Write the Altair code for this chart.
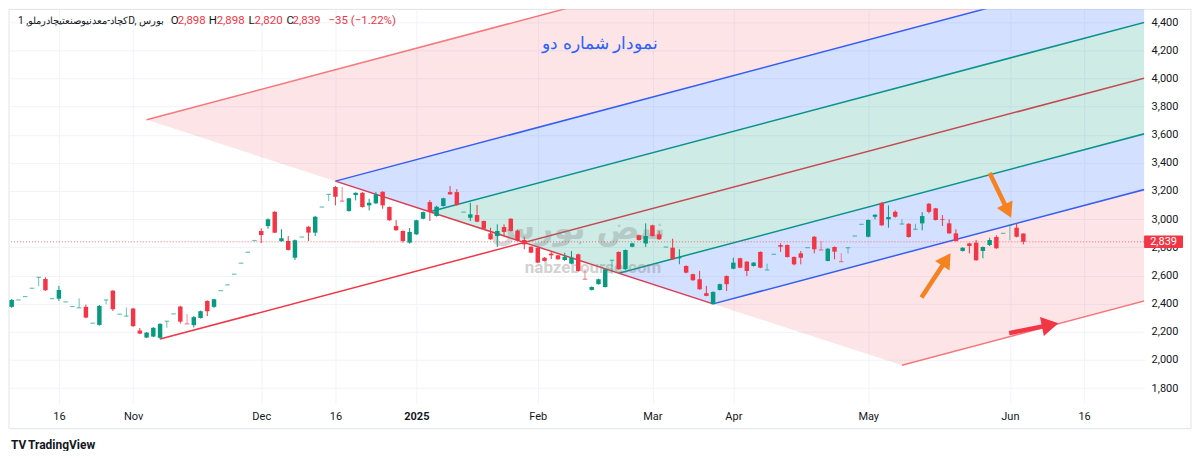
import json
import math
import altair as alt
import numpy as np
import pandas as pd

GREEN = "#089981"
RED = "#f23645"

# ---- daily candles (bar index 0..150) ----
opens = [2377, 2426, 2450, 2509, 2587, 2575, 2435, 2435, 2412, 2379, 2370, 2377, 2261, 2249, 2426, 2492,
         2325, 2311, 2365, 2209, 2159, 2166, 2157, 2275, 2327, 2379, 2257, 2247, 2298, 2419, 2377, 2492,
         2533, 2609, 2687, 2765, 2848, 2916, 2951, 3052, 2843, 2845, 2726, 2873, 2946, 2904, 3086, 3176,
         3228, 3129, 3057, 3171, 3187, 3098, 3112, 3194, 3086, 2951, 2916, 2833, 2892, 3003, 3121, 3022,
         3093, 3192, 3192, 3050, 3010, 3029, 2987, 2899, 2880, 2944, 3003, 2919, 2852, 2804, 2797, 2726,
         2755, 2743, 2710, 2684, 2750, 2574, 2497, 2538, 2518, 2708, 2767, 2644, 2804, 2885, 2828, 2956,
         2892, 2802, 2797, 2722, 2667, 2609, 2573, 2474, 2396, 2497, 2596, 2648, 2722, 2698, 2667, 2767,
         2639, 2750, 2816, 2816, 2731, 2757, 2797, 2875, 2782, 2703, 2802, 2699, 2797, 2880, 2963, 2875,
         3017, 3116, 2999, 3052, 2965, 2967, 2928, 2970, 3109, 3077, 2999, 2970, 2899, 2774, 2828, 2833,
         2774, 2816, 2873, 2899, 2956, 2939, 2898]
highs = [2433, 2426, 2450, 2509, 2587, 2587, 2435, 2526, 2412, 2379, 2438, 2393, 2261, 2390, 2426, 2495,
         2325, 2372, 2370, 2226, 2198, 2233, 2260, 2275, 2327, 2385, 2325, 2311, 2350, 2423, 2435, 2492,
         2533, 2609, 2687, 2765, 2848, 2935, 3005, 3057, 2928, 2880, 2855, 2873, 2950, 3022, 3086, 3176,
         3235, 3228, 3150, 3190, 3192, 3145, 3192, 3198, 3090, 2993, 2920, 2937, 2996, 3054, 3135, 3095,
         3152, 3235, 3213, 3050, 3116, 3100, 2990, 2939, 2963, 2963, 3007, 2925, 2875, 2808, 2800, 2730,
         2767, 2746, 2762, 2774, 2755, 2644, 2522, 2577, 2648, 2708, 2771, 2785, 2832, 2890, 2970, 2960,
         2916, 2802, 2861, 2786, 2672, 2612, 2632, 2526, 2487, 2542, 2600, 2726, 2726, 2702, 2695, 2771,
         2684, 2750, 2828, 2820, 2735, 2774, 2797, 2880, 2845, 2794, 2806, 2757, 2797, 2880, 2963, 2998,
         3035, 3120, 3098, 3062, 2999, 2971, 2967, 3050, 3115, 3080, 3029, 2999, 2928, 2800, 2832, 2852,
         2806, 2868, 2885, 2899, 2956, 2970, 2898]
lows = [2370, 2426, 2450, 2509, 2523, 2490, 2435, 2419, 2412, 2379, 2370, 2296, 2261, 2243, 2396, 2348,
        2325, 2311, 2235, 2183, 2155, 2162, 2148, 2228, 2327, 2258, 2256, 2230, 2294, 2311, 2370, 2492,
        2533, 2609, 2687, 2765, 2848, 2830, 2932, 2900, 2840, 2777, 2710, 2873, 2845, 2880, 3086, 3128,
        3098, 3128, 3055, 3133, 3082, 3062, 3108, 3074, 2988, 2918, 2833, 2826, 2888, 2999, 2987, 3018,
        3090, 3174, 3096, 3050, 2987, 2978, 2928, 2853, 2802, 2885, 2912, 2843, 2786, 2758, 2688, 2700,
        2717, 2712, 2703, 2680, 2628, 2573, 2493, 2535, 2514, 2613, 2640, 2640, 2800, 2848, 2802, 2876,
        2853, 2802, 2712, 2680, 2615, 2562, 2498, 2452, 2395, 2493, 2490, 2644, 2651, 2596, 2663, 2651,
        2639, 2750, 2767, 2727, 2672, 2679, 2797, 2757, 2781, 2700, 2715, 2698, 2757, 2880, 2963, 2870,
        2999, 2952, 2939, 3010, 2965, 2869, 2928, 2921, 3041, 2990, 2951, 2895, 2840, 2770, 2757, 2704,
        2722, 2809, 2789, 2899, 2850, 2870, 2820]
closes = [2426, 2426, 2450, 2509, 2587, 2495, 2435, 2497, 2412, 2379, 2370, 2301, 2261, 2384, 2426, 2360,
          2325, 2311, 2240, 2187, 2194, 2228, 2256, 2275, 2327, 2272, 2256, 2304, 2346, 2346, 2431, 2492,
          2533, 2609, 2687, 2765, 2848, 2887, 2999, 2904, 2864, 2781, 2850, 2873, 2904, 3017, 3086, 3176,
          3159, 3128, 3148, 3187, 3086, 3116, 3176, 3098, 2992, 2921, 2845, 2909, 2992, 3050, 3050, 3088,
          3148, 3176, 3100, 3050, 3034, 2982, 2932, 2857, 2916, 2909, 2916, 2848, 2821, 2762, 2691, 2703,
          2743, 2715, 2733, 2726, 2632, 2573, 2518, 2573, 2644, 2708, 2644, 2781, 2828, 2852, 2880, 2880,
          2857, 2802, 2715, 2730, 2620, 2566, 2502, 2455, 2483, 2538, 2538, 2691, 2655, 2632, 2691, 2655,
          2639, 2750, 2804, 2731, 2679, 2726, 2797, 2786, 2781, 2790, 2769, 2698, 2797, 2880, 2963, 2994,
          3031, 2956, 3015, 3017, 2965, 2873, 2928, 3022, 3052, 2994, 2994, 2899, 2845, 2797, 2809, 2708,
          2802, 2852, 2793, 2899, 2956, 2875, 2839]

# ---- time axis (bar index of each label) ----
tick_bars = [7, 18, 37, 48, 60, 78, 95, 107, 127, 148, 159]
tick_labels = ["16", "Nov", "Dec", "16", "2025", "Feb", "Mar", "Apr", "May", "Jun", "16"]
y_ticks = list(range(1800, 4401, 200))

# ---- pitchfork anchors (bar index, price) ----
P1 = (22.0, 2148.0)
P2 = (48.0, 3270.0)
P3 = (104.0, 2398.0)

# ---- annotation arrows (bar, price) ----
arrow_tail_bar = [145.0, 134.9, 147.9]
arrow_tail_price = [3327, 2443, 2190]
arrow_tip_bar = [148.2, 139.2, 155.2]
arrow_tip_price = [3010, 2758, 2261]
arrow_color = ["#f5821f", "#f5821f", "#f23645"]
arrow_head = [300, 300, 380]

W, H = 1137, 395
XD = [-0.4, 167.9]
YD = [1689, 4490]
ppx = W / (XD[1] - XD[0])
ppy = H / (YD[1] - YD[0])

xs = alt.Scale(domain=XD, nice=False, zero=False)
ys = alt.Scale(domain=YD, nice=False, zero=False)
label_expr = f"{json.dumps(tick_labels)}[indexof({json.dumps(tick_bars)}, datum.value)]"
xaxis = alt.Axis(values=tick_bars, labelExpr=label_expr, grid=True, gridColor="#f0f3fa",
                 ticks=False, tickSize=0, domain=False, labelPadding=7, title=None,
                 labelFontWeight={"condition": {"test": "datum.value == 60", "value": "bold"},
                                  "value": "normal"})
yaxis = alt.Axis(orient="right", values=y_ticks, format=",d", grid=True, gridColor="#f0f3fa",
                 ticks=False, tickSize=0, domain=False, labelPadding=7, title=None)


def X(f):
    return alt.X(f, type="quantitative", scale=xs, axis=xaxis)


def Y(f):
    return alt.Y(f, type="quantitative", scale=ys, axis=yaxis)


# ---- pitchfork geometry ----
X_END = 176.0
mx, my = (P2[0] + P3[0]) / 2, (P2[1] + P3[1]) / 2
slope = (my - P1[1]) / (mx - P1[0])


def start(k):
    return (mx + k * (P2[0] - mx), my + k * (P2[1] - my))


def at(k, x):
    sx, sy = start(k)
    return sy + slope * (x - sx)


bands = [(2, 1, RED, 0.13), (1, 0.5, "#2962ff", 0.2), (0.5, -0.5, GREEN, 0.2),
         (-0.5, -1, "#2962ff", 0.2), (-1, -2, RED, 0.13)]
rows = []
for b, (ku, kl, col, op) in enumerate(bands):
    su, sl = start(ku), start(kl)
    rows.append(dict(band=b, x=su[0], yt=su[1], yb=su[1], col=col, op=op))
    rows.append(dict(band=b, x=sl[0], yt=at(ku, sl[0]), yb=sl[1], col=col, op=op))
    rows.append(dict(band=b, x=X_END, yt=at(ku, X_END), yb=at(kl, X_END), col=col, op=op))
fill_df = pd.DataFrame(rows)

level_cols = {2: "#f77c80", 1: "#2962ff", 0.5: GREEN, -0.5: GREEN, -1: "#2962ff", -2: "#f77c80"}
lrows = []
for k, col in level_cols.items():
    sx, sy = start(k)
    lrows.append(dict(x1=sx, y1=sy, x2=X_END, y2=at(k, X_END), col=col))
lrows.append(dict(x1=P1[0], y1=P1[1], x2=X_END, y2=P1[1] + slope * (X_END - P1[0]), col=RED))
lrows.append(dict(x1=P2[0], y1=P2[1], x2=P3[0], y2=P3[1], col=RED))
line_df = pd.DataFrame(lrows)

fills = alt.Chart(fill_df).mark_area(clip=True).encode(
    x=X("x"), y=Y("yt"), y2=alt.Y2("yb"),
    color=alt.Color("col:N", scale=None), opacity=alt.Opacity("op:Q", scale=None),
    detail="band:N")
lines = alt.Chart(line_df).mark_rule(clip=True, strokeWidth=1.5).encode(
    x=X("x1"), y=Y("y1"), x2=alt.X2("x2"), y2=alt.Y2("y2"),
    color=alt.Color("col:N", scale=None))

# ---- candles ----
n = len(closes)
cdf = pd.DataFrame({"i": np.arange(n), "o": opens, "h": highs, "l": lows, "c": closes})
cdf["col"] = np.where(cdf.c >= cdf.o, GREEN, RED)
cdf["doji"] = (cdf.o - cdf.c).abs() < 2
cdf["op"] = np.where(cdf.doji, 0.6, 1.0)
cdf["xl"] = cdf.i - 0.33
cdf["xr"] = cdf.i + 0.33

wicks = alt.Chart(cdf).mark_rule(strokeWidth=1).encode(
    x=X("i"), y=Y("h"), y2=alt.Y2("l"),
    color=alt.Color("col:N", scale=None), opacity=alt.Opacity("op:Q", scale=None))
bodies = alt.Chart(cdf[~cdf.doji]).mark_rect().encode(
    x=X("xl"), x2=alt.X2("xr"), y=Y("o"), y2=alt.Y2("c"),
    color=alt.Color("col:N", scale=None))
dashes = alt.Chart(cdf[cdf.doji]).mark_rule(strokeWidth=1.2).encode(
    x=X("xl"), x2=alt.X2("xr"), y=Y("c"),
    color=alt.Color("col:N", scale=None), opacity=alt.Opacity("op:Q", scale=None))

price_line = alt.Chart(pd.DataFrame({"p": [closes[-1]]})).mark_rule(
    strokeDash=[1, 2], color=RED, opacity=0.7, strokeWidth=1).encode(y=Y("p"))

# ---- arrows ----
arows = []
for tb, tp, hb, hp, col, sz in zip(arrow_tail_bar, arrow_tail_price, arrow_tip_bar,
                                   arrow_tip_price, arrow_color, arrow_head):
    dx = (hb - tb) * ppx
    dy = -(hp - tp) * ppy
    L = math.hypot(dx, dy)
    ux, uy = dx / L, dy / L
    hh = math.sqrt(3) * (math.sqrt(sz) / 2) / 2
    cb = hb - hh * ux / ppx
    cp = hp + hh * uy / ppy
    ang = math.degrees(math.atan2(dx, -dy)) % 360
    arows.append(dict(tb=tb, tp=tp, cb=cb, cp=cp, ang=ang, col=col, sz=sz))
adf = pd.DataFrame(arows)
shafts = alt.Chart(adf).mark_rule(strokeWidth=4.5, strokeCap="butt").encode(
    x=X("tb"), y=Y("tp"), x2=alt.X2("cb"), y2=alt.Y2("cp"),
    color=alt.Color("col:N", scale=None))
heads = alt.Chart(adf).mark_point(shape="triangle-up", filled=True, opacity=1, strokeWidth=0).encode(
    x=X("cb"), y=Y("cp"), angle=alt.Angle("ang:Q", scale=None),
    size=alt.Size("sz:Q", scale=None), color=alt.Color("col:N", scale=None))


# ---- texts ----
def txt(t, x, y, size=12, color="#131722", weight="normal", align="left", font="Roboto", opacity=1.0):
    return alt.Chart(pd.DataFrame({"t": [t]})).mark_text(
        align=align, baseline="middle", fontSize=size, color=color, fontWeight=weight,
        font=font, opacity=opacity).encode(x=alt.value(x), y=alt.value(y), text="t:N")


legend_parts = [
    ("O", 162, "#131722"), ("2,898", 169, RED),
    ("H", 200, "#131722"), ("2,898", 208, RED),
    ("L", 240, "#131722"), ("2,820", 246, RED),
    ("C", 278, "#131722"), ("2,839", 284, RED),
    ("\u221235 (\u22121.22%)", 320, RED),
]
texts = [txt("کچاد-معدنیوصنعتیچادرملو, 1D, بورس", 9, 12, size=10.3)]
texts += [txt(t, x, 12, size=11.5, color=c) for t, x, c in legend_parts]
texts.append(txt("نمودار شماره دو", 592, 35, size=17, color="#2962ff", align="center"))
texts.append(txt("TV", 2, 436, size=12, weight="bold"))
texts.append(txt("TradingView", 19, 436, size=12, weight="bold"))

watermark = [
    txt("نبض بورس", 570, 220, size=32, color="#7f7f7f", weight="bold", align="center",
        font="DejaVu Sans", opacity=0.3),
    txt("nabzebourse.com", 585, 259, size=17, color="#7f7f7f", weight="bold", align="center",
        opacity=0.35),
]

frame = alt.Chart(pd.DataFrame({"a": [0]})).mark_rect(
    fillOpacity=0, stroke="#e0e3eb", strokeWidth=1).encode(
    x=alt.value(0), x2=alt.value(1184), y=alt.value(0), y2=alt.value(420))

plabel_df = pd.DataFrame({"p": [closes[-1]], "pt": [closes[-1] + 6.2 / ppy],
                          "pb": [closes[-1] - 6.2 / ppy], "t": ["2,839"]})
plabel_box = alt.Chart(plabel_df).mark_rect(color=RED, cornerRadius=1).encode(
    x=alt.value(1137), x2=alt.value(1176), y=Y("pt"), y2=alt.Y2("pb"))
plabel_txt = alt.Chart(plabel_df).mark_text(
    color="white", fontSize=11, font="Roboto", align="center", baseline="middle").encode(
    x=alt.value(1156.5), y=Y("p"), text="t:N")

chart = alt.layer(
    frame, lines, fills, *watermark, price_line, wicks, bodies, dashes,
    shafts, heads, *texts, plabel_box, plabel_txt
).properties(width=W, height=H, padding=0).configure_view(strokeWidth=0).configure_axis(
    labelFont="Roboto", labelFontSize=11, labelColor="#131722")

chart.save("out.html", embed_options={"renderer": "svg", "actions": False})
